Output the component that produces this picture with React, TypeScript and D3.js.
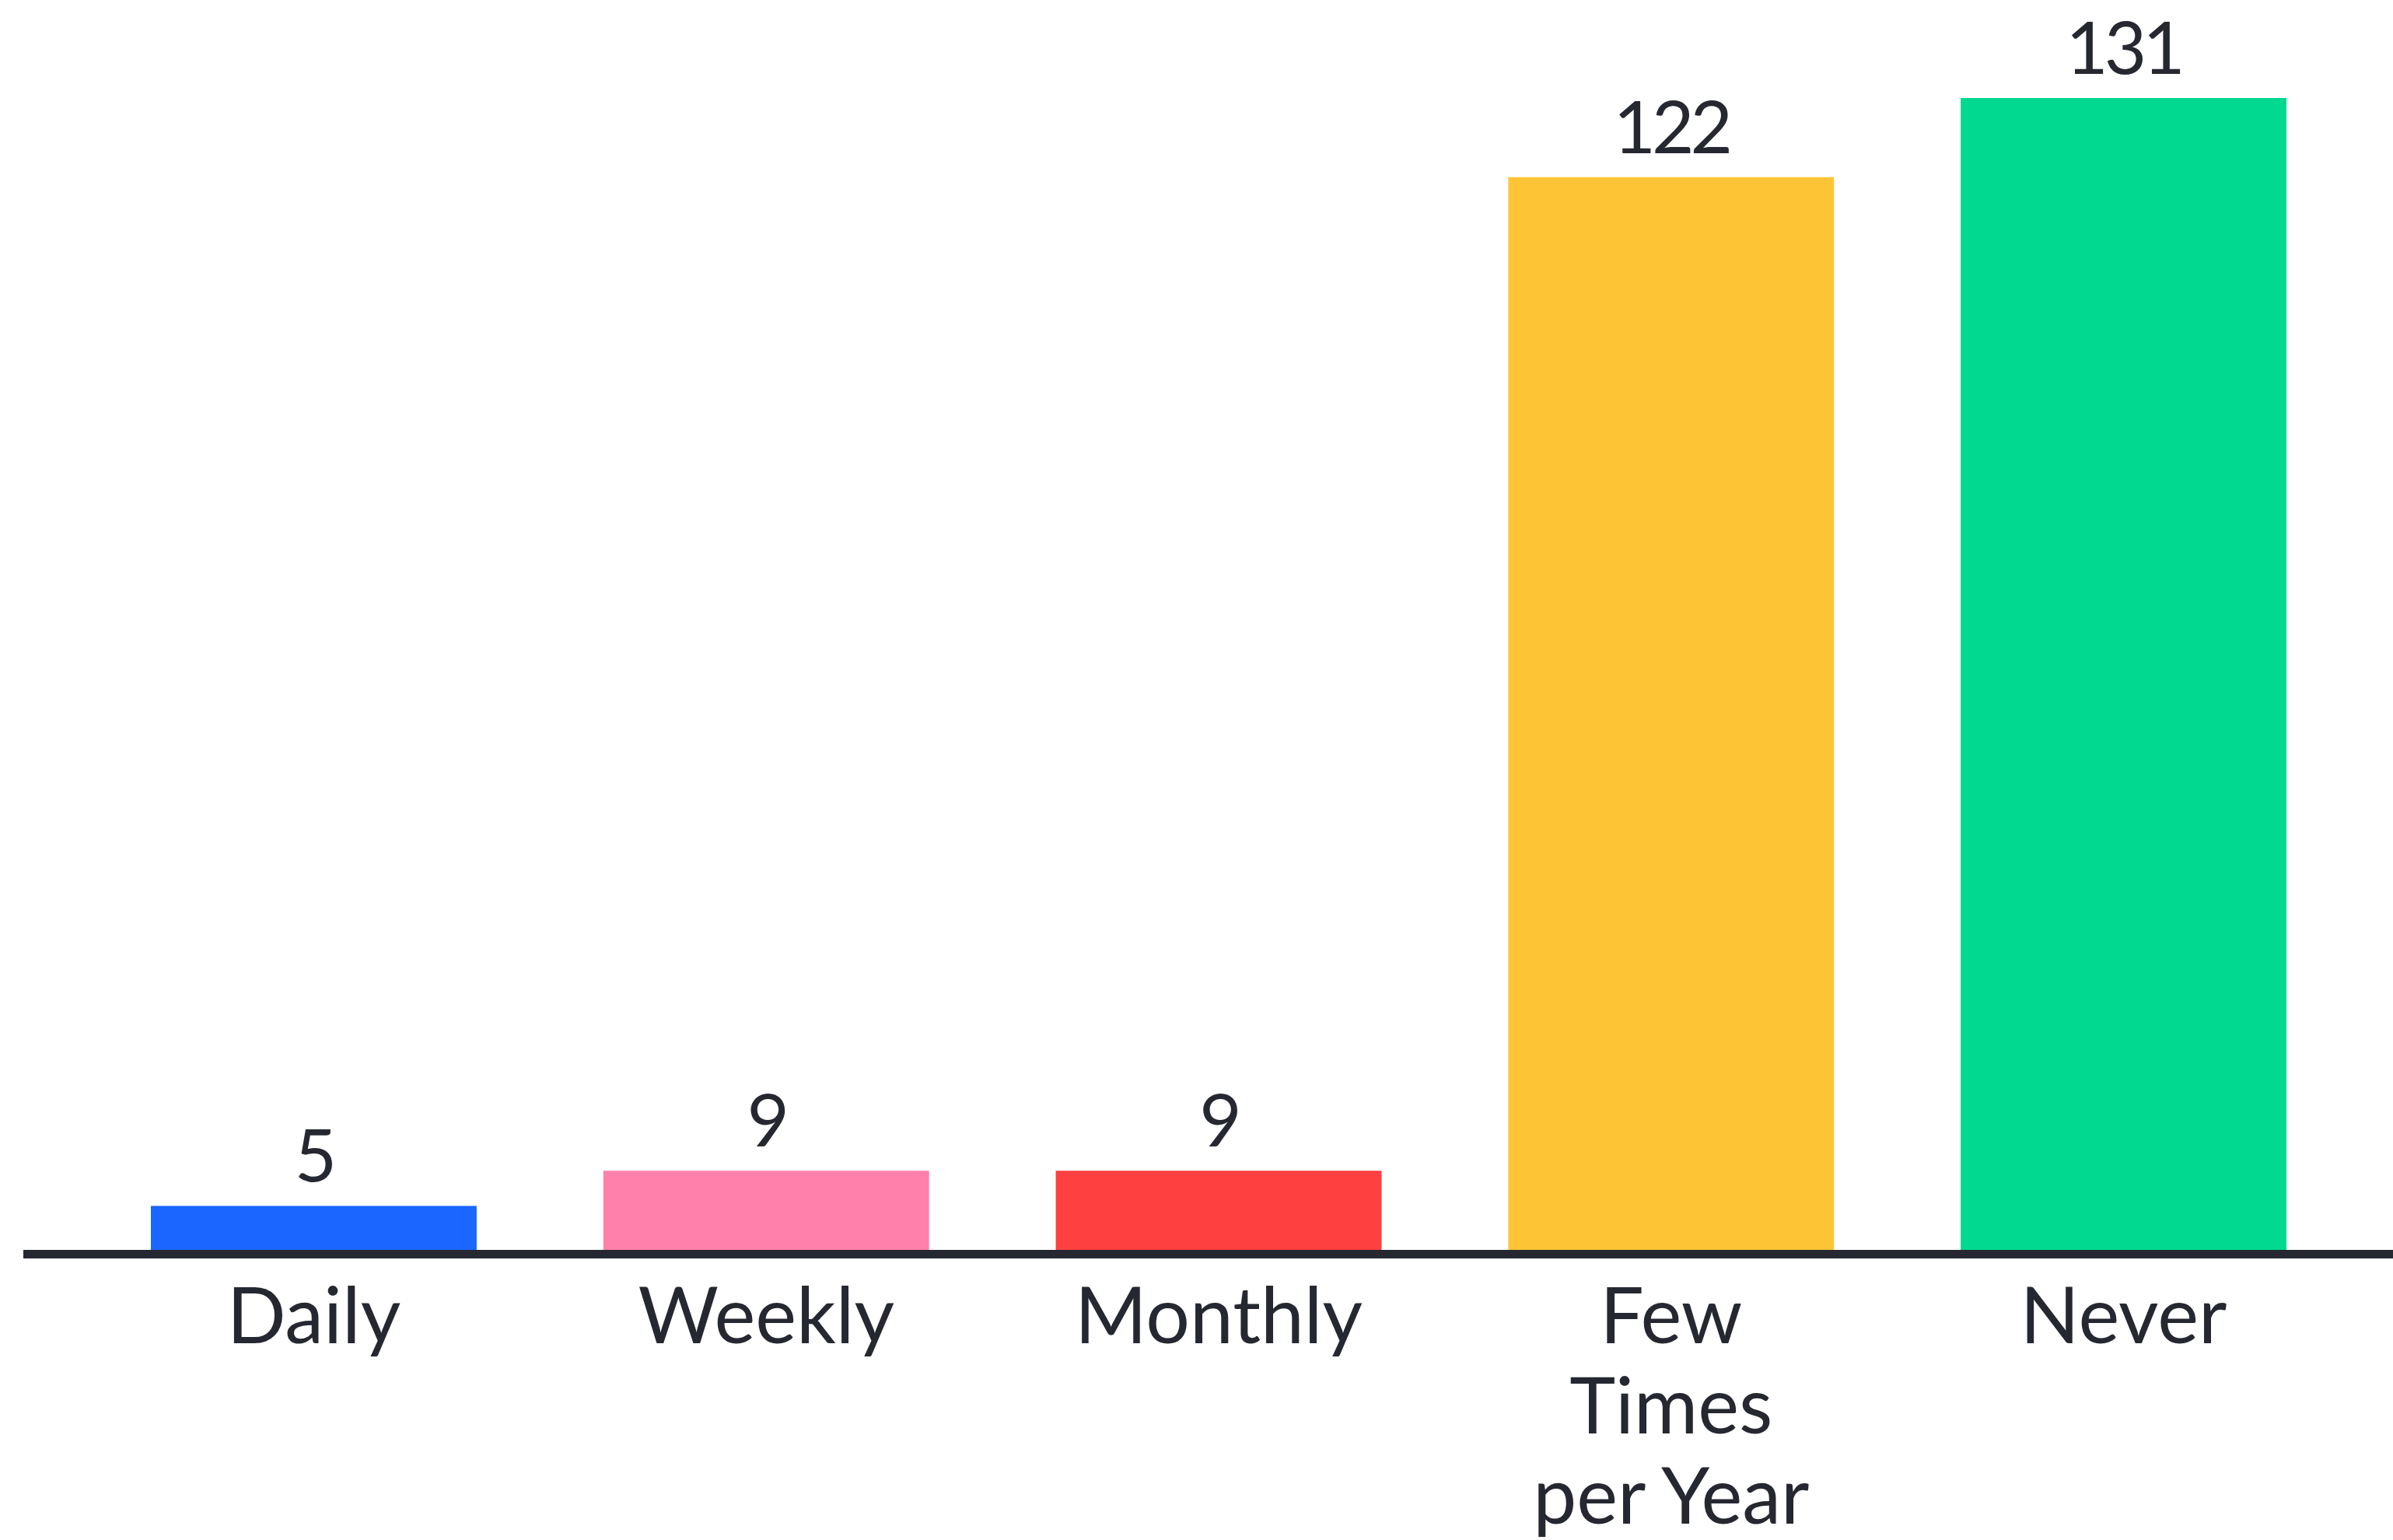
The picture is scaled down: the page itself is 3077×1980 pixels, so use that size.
import { useEffect, useRef } from 'react'
import * as d3 from 'd3'

const categories = ['Daily', 'Weekly', 'Monthly', 'Few Times per Year', 'Never']
const categoryLines = [['Daily'], ['Weekly'], ['Monthly'], ['Few', 'Times', 'per Year'], ['Never']]
const counts = [5, 9, 9, 122, 131]
const barColors = ['#1a66ff', '#ff80aa', '#ff4040', '#fdc536', '#00d98f']

const WIDTH = 3077
const HEIGHT = 1980
const INK = '#252830'

export default function App() {
  const svgRef = useRef<SVGSVGElement>(null)

  useEffect(() => {
    if (!svgRef.current) return
    document.body.style.margin = '0'

    const svg = d3.select(svgRef.current)
    svg.selectAll('*').remove()
    svg.attr('width', WIDTH).attr('height', HEIGHT)

    const baseY = 1607
    const xScale = d3.scaleBand().domain(categories).range([194, 2940]).paddingInner(0.28).paddingOuter(0)
    const yScale = d3.scaleLinear().domain([0, d3.max(counts)!]).range([baseY, 126])

    const data = categories.map((c, i) => ({ c, v: counts[i], color: barColors[i], lines: categoryLines[i] }))

    // Bars
    svg.append('g')
      .selectAll('rect')
      .data(data)
      .join('rect')
      .attr('x', d => xScale(d.c)!)
      .attr('y', d => yScale(d.v))
      .attr('width', xScale.bandwidth())
      .attr('height', d => baseY - yScale(d.v))
      .attr('fill', d => d.color)

    // Value labels
    svg.append('g')
      .selectAll('text')
      .data(data)
      .join('text')
      .attr('x', d => xScale(d.c)! + xScale.bandwidth() / 2)
      .attr('y', d => yScale(d.v) - 31)
      .attr('text-anchor', 'middle')
      .attr('font-family', 'Lato, sans-serif')
      .attr('font-size', 94)
      .attr('letter-spacing', -5)
      .attr('fill', INK)
      .text(d => d.v)

    // Baseline
    svg.append('line')
      .attr('x1', 30).attr('x2', WIDTH)
      .attr('y1', baseY + 5.5).attr('y2', baseY + 5.5)
      .attr('stroke', INK).attr('stroke-width', 11)

    // Category labels
    const labels = svg.append('g')
      .selectAll('text')
      .data(data)
      .join('text')
      .attr('text-anchor', 'middle')
      .attr('font-family', 'Lato, sans-serif')
      .attr('font-size', 100)
      .attr('fill', INK)
    labels.each(function (d) {
      const el = d3.select(this)
      d.lines.forEach((line, j) => {
        el.append('tspan')
          .attr('x', xScale(d.c)! + xScale.bandwidth() / 2)
          .attr('y', 1727 + j * 116)
          .text(line)
      })
    })
  }, [])

  return (
    <div style={{ width: WIDTH, height: HEIGHT, background: '#fff' }}>
      <svg ref={svgRef} style={{ display: 'block' }} />
    </div>
  )
}
